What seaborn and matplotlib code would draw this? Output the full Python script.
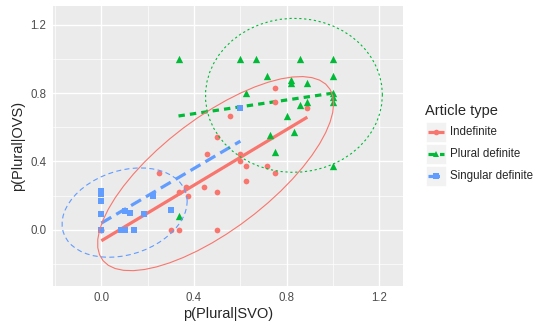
import numpy as np
import matplotlib
matplotlib.use("Agg")
import matplotlib.pyplot as plt
import seaborn as sns
from matplotlib.lines import Line2D
from matplotlib.patches import Rectangle

# ---------------------------------------------------------
# DATA
# ---------------------------------------------------------
groups = ["Indefinite", "Plural definite", "Singular definite"]
colors = ["#F8766D", "#00BA38", "#619CFF"]
markers = ["o", "^", "s"]

# two Indefinite points sit at (0, 0), hidden under the blue squares
ind_x = [0.0, 0.0, 0.25, 0.3, 0.333, 0.333, 0.364, 0.375, 0.444, 0.455, 0.5, 0.5,
         0.5, 0.556, 0.6, 0.6, 0.625, 0.625, 0.714, 0.75, 0.75, 0.75, 0.889]
ind_y = [0.0, 0.0, 0.333, 0.0, 0.0, 0.222, 0.25, 0.2, 0.25, 0.444, 0.545, 0.222,
         0.0, 0.667, 0.444, 0.4, 0.375, 0.286, 0.375, 0.333, 0.75, 0.833, 0.714]

pd_x = [0.333, 0.6, 0.667, 0.857, 1.0, 1.0, 0.714, 0.818, 0.818, 0.889, 0.625,
        1.0, 1.0, 1.0, 0.889, 0.857, 0.8, 0.727, 0.833, 0.75, 1.0, 0.333]
pd_y = [1.0, 1.0, 1.0, 1.0, 1.0, 0.9, 0.9, 0.875, 0.857, 0.857, 0.8,
        0.8, 0.778, 0.75, 0.75, 0.733, 0.667, 0.556, 0.571, 0.455, 0.375, 0.083]

sd_x = [0.0, 0.0, 0.0, 0.0, 0.0, 0.083, 0.1, 0.143, 0.1, 0.125, 0.182, 0.222, 0.3, 0.6]
sd_y = [0.225, 0.21, 0.167, 0.091, 0.0, 0.0, 0.0, 0.0, 0.111, 0.1, 0.091, 0.2, 0.118, 0.714]

xs = [ind_x, pd_x, sd_x]
ys = [ind_y, pd_y, sd_y]

x_ticks = [0.0, 0.4, 0.8, 1.2]
y_ticks = [0.0, 0.4, 0.8, 1.2]

# line dash patterns (ggplot "solid", "22", "42")
dash_thick = [None, (2.0, 1.6), (3.6, 1.8)]
dash_thin = [None, (2.0, 2.4), (4.5, 3.0)]


# ---------------------------------------------------------
# stat_ellipse (type = "t") helpers
# ---------------------------------------------------------
def cov_trob(x, nu=5, maxit=25, tol=0.01):
    n, p = x.shape
    wt = np.ones(n)
    loc = x.mean(axis=0)
    w = np.sqrt(wt)
    X = x - loc
    for _ in range(maxit):
        w0 = w
        X = x - loc
        _, d, vt = np.linalg.svd(np.sqrt(w / w.sum())[:, None] * X, full_matrices=False)
        wX = X @ vt.T @ np.diag(1 / d)
        Q = (wX ** 2).sum(axis=1)
        w = (wt * (nu + p)) / (nu + Q)
        loc = (w[:, None] * x).sum(axis=0) / w.sum()
        if np.all(np.abs(w - w0) < tol):
            break
    sw = np.sqrt(w)[:, None] * X
    cov = sw.T @ sw / wt.sum()
    return loc, cov


def ellipse_path(xv, yv, level=0.95, segments=51):
    data = np.column_stack([xv, yv])
    n = len(data)
    center, shape = cov_trob(data)
    dfd = n - 1
    qf = dfd / 2 * ((1 - level) ** (-2 / dfd) - 1)   # F(2, dfd) quantile
    radius = np.sqrt(2 * qf)
    ang = np.arange(segments + 1) * 2 * np.pi / segments
    circ = np.column_stack([np.cos(ang), np.sin(ang)])
    L = np.linalg.cholesky(shape)
    ell = center + radius * (circ @ L.T)
    return ell[:, 0], ell[:, 1]


# ---------------------------------------------------------
# PLOT
# ---------------------------------------------------------
sns.set_style("darkgrid")
plt.rcParams["font.family"] = ["Liberation Sans", "DejaVu Sans"]

W, H = 533, 321
fig = plt.figure(figsize=(W / 100, H / 100), dpi=100)
ax = fig.add_axes([52.7 / W, 1 - 286 / H, (403 - 52.7) / W, (286 - 6) / H])
ax.set_facecolor("#EBEBEB")

for gx, gy, c, m in zip(xs, ys, colors, markers):
    size = {"o": 17, "^": 28, "s": 15}[m]
    sns.scatterplot(x=gx, y=gy, color=c, marker=m, s=size, linewidth=0,
                    ax=ax, zorder=3)

for gx, gy, c, d in zip(xs, ys, colors, dash_thick):
    kw = dict(lw=2.3, solid_capstyle="butt", dash_capstyle="butt")
    if d is not None:
        kw["dashes"] = d
    sns.regplot(x=np.array(gx), y=np.array(gy), scatter=False, ci=None,
                color=c, line_kws=kw, ax=ax)

for gx, gy, c, d in zip(xs, ys, colors, dash_thin):
    ex, ey = ellipse_path(np.array(gx), np.array(gy))
    kw = dict(color=c, lw=0.8, zorder=4)
    if d is not None:
        kw["dashes"] = d
    ax.plot(ex, ey, **kw)

ax.set_xlim(-0.21, 1.302)
ax.set_ylim(-0.33, 1.311)
ax.set_xticks(x_ticks)
ax.set_yticks(y_ticks)
ax.set_xticklabels([f"{t:.1f}" for t in x_ticks])
ax.set_yticklabels([f"{t:.1f}" for t in y_ticks])
ax.set_xticks([-0.2, 0.2, 0.6, 1.0], minor=True)
ax.set_yticks([-0.2, 0.2, 0.6, 1.0], minor=True)
ax.grid(which="major", color="white", lw=1.0)
ax.grid(which="minor", color="white", lw=0.5)
ax.tick_params(which="major", length=2.5, width=0.8, color="#333333",
               labelsize=8.3, labelcolor="#4D4D4D", pad=2)
ax.tick_params(which="minor", length=0)
for s in ax.spines.values():
    s.set_visible(False)
ax.set_xlabel("p(Plural|SVO)", fontsize=10.5, labelpad=2)
ax.set_ylabel("p(Plural|OVS)", fontsize=10.5, labelpad=4)

# ---------------------------------------------------------
# LEGEND (ggplot-like keys)
# ---------------------------------------------------------
lx0, ly0, lw_, lh_ = 420, 100, 113, 95
lax = fig.add_axes([lx0 / W, 1 - (ly0 + lh_) / H, lw_ / W, lh_ / H])
lax.set_xlim(lx0, lx0 + lw_)
lax.set_ylim(ly0 + lh_, ly0)
lax.axis("off")
lax.text(425, 111.5, "Article type", fontsize=10.5, va="center", ha="left")
row_y = [132.3, 154.0, 175.7]
for yc, g, c, m, d in zip(row_y, groups, colors, markers, dash_thick):
    lax.add_patch(Rectangle((425.7, yc - 10), 20, 20, facecolor="#F2F2F2",
                            edgecolor="white", lw=0.5))
    kw = dict(color=c, lw=2.3, solid_capstyle="butt", dash_capstyle="butt")
    if d is not None:
        kw["dashes"] = d
    lax.add_line(Line2D([427.5, 444], [yc, yc], **kw))
    ms = {"o": 4.0, "^": 5.0, "s": 3.8}[m]
    lax.add_line(Line2D([435.7], [yc], marker=m, color=c, ms=ms, mew=0, lw=0))
    lax.text(450, yc, g, fontsize=8.3, va="center", ha="left")

fig.savefig("out.png", dpi=100)
